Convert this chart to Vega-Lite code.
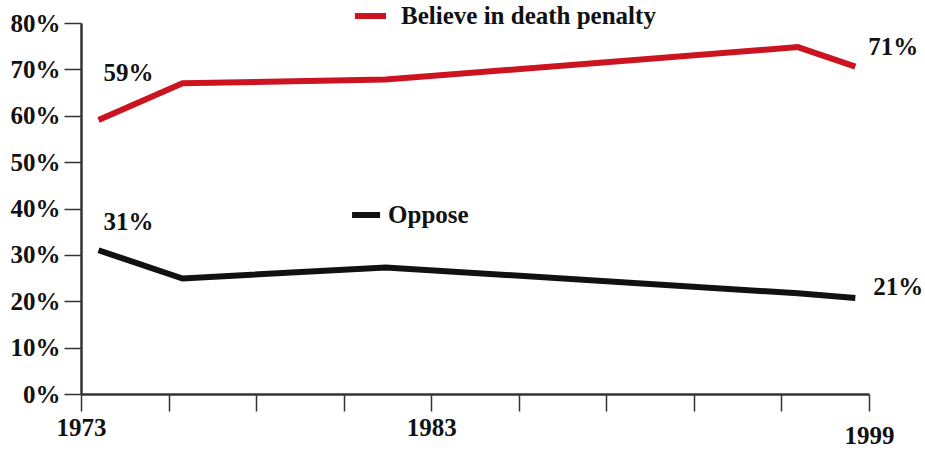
{
  "$schema": "https://vega.github.io/schema/vega-lite/v6.json",
  "width": 788,
  "height": 371,
  "autosize": "none",
  "padding": {"left": 81, "top": 23, "right": 56, "bottom": 58},
  "background": "white",
  "config": {"view": {"stroke": null}, "font": "Liberation Serif"},
  "datasets": {
    "poll": [
      {"year": 1973.5, "series": "Believe", "pct": 59.1, "label": "59%"},
      {"year": 1975.9, "series": "Believe", "pct": 67.0},
      {"year": 1981.7, "series": "Believe", "pct": 67.8},
      {"year": 1996.4, "series": "Believe", "pct": 74.8},
      {"year": 1998.5, "series": "Believe", "pct": 70.6, "label": "71%"},
      {"year": 1973.5, "series": "Oppose", "pct": 31.0, "label": "31%"},
      {"year": 1975.9, "series": "Oppose", "pct": 24.9},
      {"year": 1981.7, "series": "Oppose", "pct": 27.3},
      {"year": 1996.4, "series": "Oppose", "pct": 21.7},
      {"year": 1998.5, "series": "Oppose", "pct": 20.7, "label": "21%"}
    ],
    "key": [
      {"series": "Believe", "label": "Believe in death penalty", "year": 1980.82, "year2": 1981.71, "pct": 81.5},
      {"series": "Oppose", "label": "Oppose", "year": 1980.74, "year2": 1981.54, "pct": 38.6}
    ]
  },
  "encoding": {
    "x": {
      "field": "year", "type": "quantitative",
      "scale": {"type": "linear", "domain": [1973, 1983, 1999], "range": [0, 350.2, 788], "zero": false, "nice": false},
      "axis": {
        "title": null, "grid": false,
        "values": [1973, 1975.5, 1978, 1980.5, 1983, 1986.2, 1989.4, 1992.6, 1995.8, 1999],
        "labelExpr": "(datum.value == 1973 || datum.value == 1983 || datum.value == 1999) ? '' + datum.value : ''",
        "labelFlush": false, "labelOverlap": false,
        "tickSize": 17, "tickWidth": 1.5, "tickColor": "#333333",
        "domainWidth": 2.5, "domainColor": "#333333",
        "labelFont": "Liberation Serif", "labelFontSize": 25, "labelFontWeight": "bold", "labelColor": "#111111",
        "labelPadding": {"condition": {"test": "datum.value == 1999", "value": 12}, "value": 4}
      }
    },
    "y": {
      "field": "pct", "type": "quantitative",
      "scale": {"domain": [0, 80], "nice": false},
      "axis": {
        "title": null, "grid": false,
        "values": [0, 10, 20, 30, 40, 50, 60, 70, 80],
        "labelExpr": "datum.value + '%'",
        "tickSize": 17, "tickWidth": 1.5, "tickColor": "#333333",
        "domainWidth": 2.5, "domainColor": "#333333",
        "labelFont": "Liberation Serif", "labelFontSize": 25, "labelFontWeight": "bold", "labelColor": "#111111",
        "labelPadding": 4
      }
    }
  },
  "layer": [
    {
      "data": {"name": "poll"},
      "mark": {"type": "line", "strokeWidth": 6, "strokeCap": "butt", "strokeJoin": "miter"},
      "encoding": {
        "color": {"field": "series", "type": "nominal", "scale": {"domain": ["Believe", "Oppose"], "range": ["#cc1420", "#111111"]}, "legend": null}
      }
    },
    {
      "data": {"name": "poll"},
      "transform": [{"filter": "datum.label == '59%'"}],
      "mark": {"type": "text", "font": "Liberation Serif", "fontSize": 25, "fontWeight": "bold", "color": "#111111", "align": "center", "baseline": "middle", "dx": 30, "dy": -47},
      "encoding": {"text": {"field": "label"}}
    },
    {
      "data": {"name": "poll"},
      "transform": [{"filter": "datum.label == '31%'"}],
      "mark": {"type": "text", "font": "Liberation Serif", "fontSize": 25, "fontWeight": "bold", "color": "#111111", "align": "center", "baseline": "middle", "dx": 30, "dy": -28},
      "encoding": {"text": {"field": "label"}}
    },
    {
      "data": {"name": "poll"},
      "transform": [{"filter": "datum.label == '71%'"}],
      "mark": {"type": "text", "font": "Liberation Serif", "fontSize": 25, "fontWeight": "bold", "color": "#111111", "align": "center", "baseline": "middle", "dx": 38, "dy": -20},
      "encoding": {"text": {"field": "label"}}
    },
    {
      "data": {"name": "poll"},
      "transform": [{"filter": "datum.label == '21%'"}],
      "mark": {"type": "text", "font": "Liberation Serif", "fontSize": 25, "fontWeight": "bold", "color": "#111111", "align": "center", "baseline": "middle", "dx": 43, "dy": -11},
      "encoding": {"text": {"field": "label"}}
    },
    {
      "data": {"name": "key"},
      "mark": {"type": "rule", "strokeWidth": 6, "strokeCap": "butt", "clip": false},
      "encoding": {
        "x2": {"field": "year2"},
        "color": {"field": "series", "type": "nominal", "legend": null}
      }
    },
    {
      "data": {"name": "key"},
      "transform": [{"filter": "datum.series == 'Believe'"}],
      "mark": {"type": "text", "font": "Liberation Serif", "fontSize": 25, "fontWeight": "bold", "color": "#111111", "align": "left", "baseline": "middle", "dx": 15, "clip": false},
      "encoding": {"x": {"field": "year2", "type": "quantitative"}, "text": {"field": "label"}}
    },
    {
      "data": {"name": "key"},
      "transform": [{"filter": "datum.series == 'Oppose'"}],
      "mark": {"type": "text", "font": "Liberation Serif", "fontSize": 25, "fontWeight": "bold", "color": "#111111", "align": "left", "baseline": "middle", "dx": 8, "clip": false},
      "encoding": {"x": {"field": "year2", "type": "quantitative"}, "text": {"field": "label"}}
    }
  ]
}
